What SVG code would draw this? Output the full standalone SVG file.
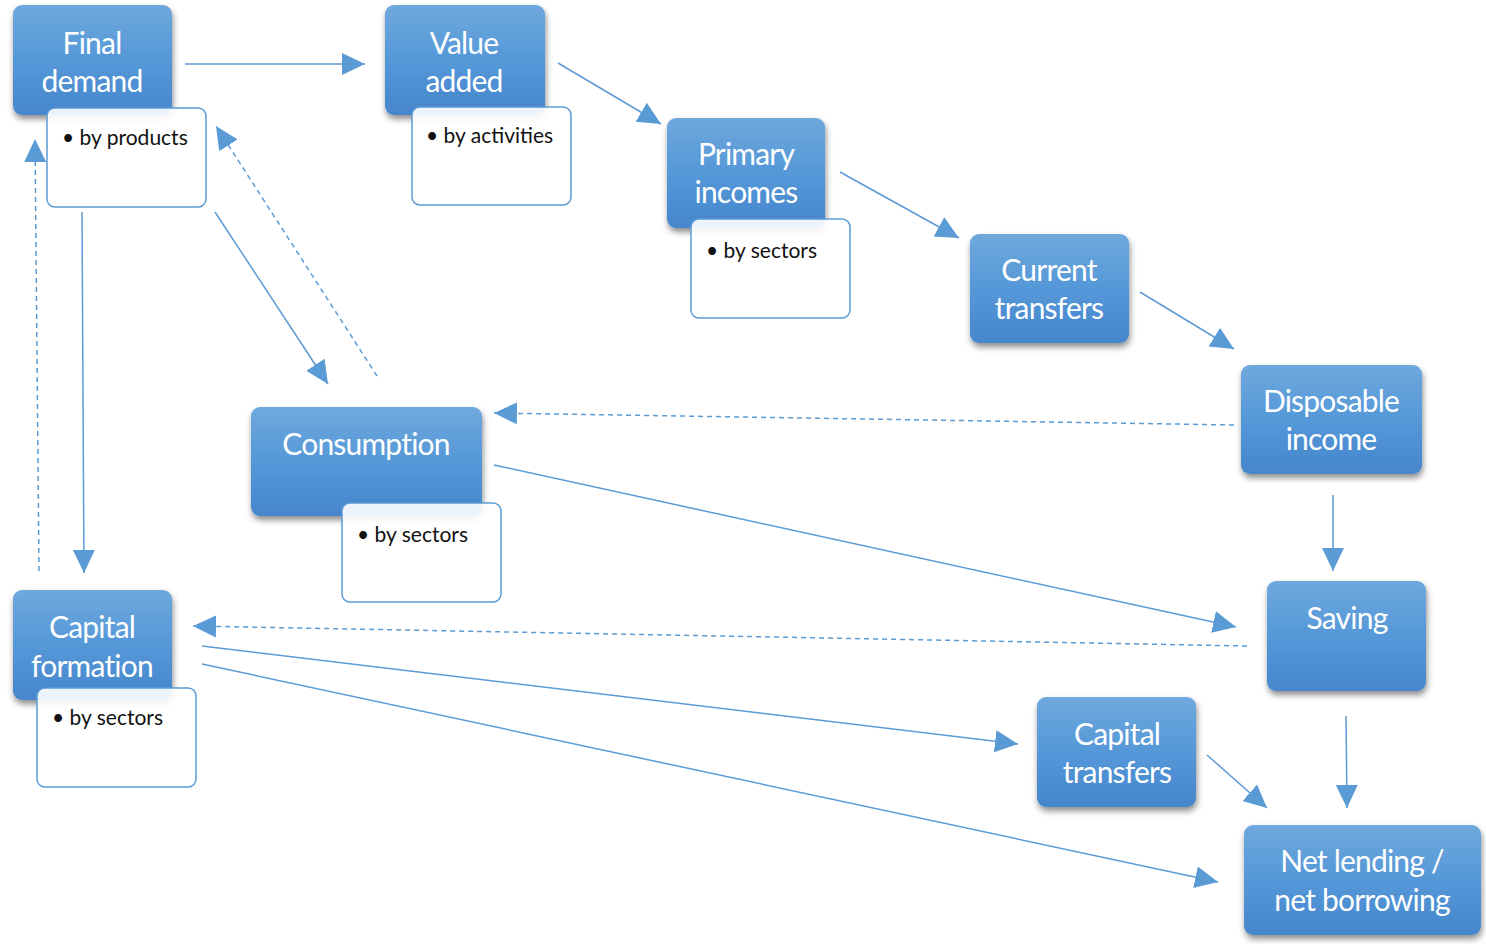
<svg xmlns="http://www.w3.org/2000/svg" width="1486" height="944" viewBox="0 0 1486 944">
  <defs>
    <linearGradient id="boxFill" x1="0" y1="0" x2="0" y2="1">
      <stop offset="0" stop-color="#6fa8dd"/>
      <stop offset="0.5" stop-color="#5598d8"/>
      <stop offset="1" stop-color="#4686cc"/>
    </linearGradient>
    <filter id="shadow" x="-20%" y="-20%" width="140%" height="150%">
      <feDropShadow dx="1" dy="4" stdDeviation="3" flood-color="#000" flood-opacity="0.45"/>
    </filter>
    <marker id="head" markerUnits="userSpaceOnUse" markerWidth="24" markerHeight="24" viewBox="0 0 24 24" refX="23" refY="12" orient="auto">
      <path d="M0,1 L23,12 L0,23 Z" fill="#5b9bd5"/>
    </marker>
  </defs>
  <style>
    .box { fill: url(#boxFill); filter: url(#shadow); }
    .sub { fill: #ffffff; fill-opacity: 0.9; stroke: #5b9bd5; stroke-width: 1.5; }
    .title { font-family: Lato, "Open Sans", sans-serif; font-size: 30px; letter-spacing: -0.8px; fill: #ffffff; text-anchor: middle; }
    .item { font-family: Lato, "Open Sans", sans-serif; font-size: 21px; fill: #111111; }
    .link { stroke: #5b9bd5; stroke-width: 1.5; fill: none; marker-end: url(#head); }
    .dash { stroke-dasharray: 5 4; }
  </style>

  <rect width="1486" height="944" fill="#ffffff"/>

  <!-- connectors -->
  <g id="connectors">
    <line class="link" x1="185" y1="64" x2="365" y2="64"/>
    <line class="link" x1="558" y1="63" x2="661" y2="124"/>
    <line class="link" x1="840" y1="172" x2="959" y2="238"/>
    <line class="link" x1="1140" y1="292" x2="1234" y2="349"/>
    <line class="link" x1="1333" y1="495" x2="1333" y2="571"/>
    <line class="link" x1="1346" y1="716" x2="1347" y2="808"/>
    <line class="link" x1="1207" y1="755" x2="1267" y2="808"/>
    <line class="link" x1="202" y1="646" x2="1018" y2="744"/>
    <line class="link" x1="202" y1="664" x2="1218" y2="882"/>
    <line class="link" x1="494" y1="465" x2="1236" y2="627"/>
    <line class="link dash" x1="1234" y1="425" x2="494" y2="413"/>
    <line class="link dash" x1="1247" y1="646" x2="193" y2="626"/>
    <line class="link" x1="215" y1="212" x2="328" y2="384"/>
    <line class="link dash" x1="377" y1="376" x2="216" y2="126"/>
    <line class="link" x1="82" y1="212" x2="84" y2="573"/>
    <line class="link dash" x1="39" y1="571" x2="35" y2="139"/>
  </g>

  <g id="final-demand">
    <rect class="box" x="13" y="5" width="159" height="110" rx="9"/>
    <text class="title" x="92" y="54">Final</text>
    <text class="title" x="92" y="92">demand</text>
    <rect class="sub" x="47" y="108" width="159" height="99" rx="8"/>
    <text class="item" x="62" y="145">• by products</text>
  </g>

  <g id="value-added">
    <rect class="box" x="385" y="5" width="160" height="110" rx="9"/>
    <text class="title" x="464" y="54">Value</text>
    <text class="title" x="464" y="92">added</text>
    <rect class="sub" x="412" y="107" width="159" height="98" rx="8"/>
    <text class="item" x="426" y="143">• by activities</text>
  </g>

  <g id="primary-incomes">
    <rect class="box" x="667" y="118" width="158" height="110" rx="9"/>
    <text class="title" x="746" y="165">Primary</text>
    <text class="title" x="746" y="203">incomes</text>
    <rect class="sub" x="691" y="219" width="159" height="99" rx="8"/>
    <text class="item" x="706" y="258">• by sectors</text>
  </g>

  <g id="current-transfers">
    <rect class="box" x="970" y="234" width="159" height="109" rx="9"/>
    <text class="title" x="1049" y="281">Current</text>
    <text class="title" x="1049" y="319">transfers</text>
  </g>

  <g id="disposable-income">
    <rect class="box" x="1241" y="365" width="181" height="109" rx="9"/>
    <text class="title" x="1331" y="412">Disposable</text>
    <text class="title" x="1331" y="450">income</text>
  </g>

  <g id="consumption">
    <rect class="box" x="251" y="407" width="231" height="109" rx="9"/>
    <text class="title" x="366" y="455">Consumption</text>
    <rect class="sub" x="342" y="503" width="159" height="99" rx="8"/>
    <text class="item" x="357" y="542">• by sectors</text>
  </g>

  <g id="saving">
    <rect class="box" x="1267" y="581" width="159" height="110" rx="9"/>
    <text class="title" x="1347" y="629">Saving</text>
  </g>

  <g id="capital-formation">
    <rect class="box" x="13" y="590" width="159" height="110" rx="9"/>
    <text class="title" x="92" y="638">Capital</text>
    <text class="title" x="92" y="677">formation</text>
    <rect class="sub" x="37" y="688" width="159" height="99" rx="8"/>
    <text class="item" x="52" y="725">• by sectors</text>
  </g>

  <g id="capital-transfers">
    <rect class="box" x="1037" y="697" width="159" height="110" rx="9"/>
    <text class="title" x="1117" y="745">Capital</text>
    <text class="title" x="1117" y="783">transfers</text>
  </g>

  <g id="net-lending">
    <rect class="box" x="1244" y="825" width="237" height="110" rx="9"/>
    <text class="title" x="1362" y="872">Net lending /</text>
    <text class="title" x="1362" y="911">net borrowing</text>
  </g>
</svg>
